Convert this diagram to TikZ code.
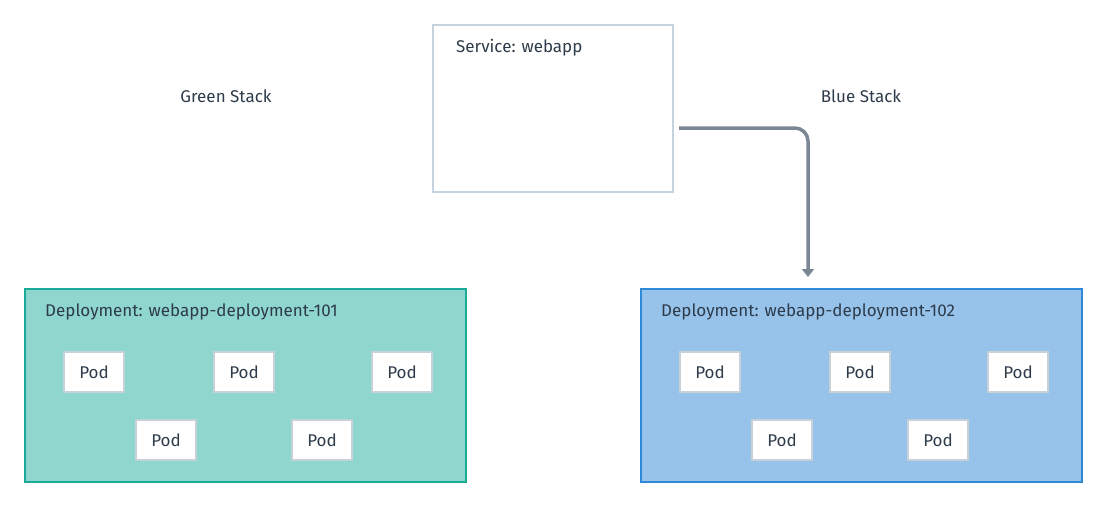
\documentclass[tikz,border=0pt]{standalone}
\usepackage{fontspec}
\setmainfont{Fira Sans}
\usetikzlibrary{arrows.meta}
\definecolor{txt}{HTML}{2D3B4A}
\definecolor{svcborder}{HTML}{C5D3DF}
\definecolor{arrowc}{HTML}{7B8794}
\definecolor{gfill}{HTML}{8FD6CE}
\definecolor{gborder}{HTML}{1AAB98}
\definecolor{bfill}{HTML}{97C3EB}
\definecolor{bborder}{HTML}{2F89D9}
\definecolor{podborder}{HTML}{C8D0D8}
\tikzset{
  lbl/.style={text=txt, font=\fontsize{17}{20}\selectfont, inner sep=0pt},
  podbox/.style={draw=podborder, line width=2pt, fill=white, minimum width=60pt, minimum height=40pt, inner sep=0pt, text=txt, font=\fontsize{17}{20}\selectfont},
  deploy/.style={line width=2pt, minimum width=441pt, minimum height=193pt, inner sep=0pt, anchor=north west},
  conn/.style={draw=arrowc, line width=3.5pt, rounded corners=13pt, -{Triangle[length=8pt,width=12pt]}},
}
\begin{document}
\begin{tikzpicture}[x=1pt,y=-1pt]
\useasboundingbox (0,0) rectangle (1104,504);
% service
\node[draw=svcborder, line width=2pt, minimum width=240pt, minimum height=167pt, inner sep=0pt, anchor=north west] (svc) at (432,24) {};
\node[lbl, anchor=west] (svct) at (456,47.5) {Service: webapp};
% stacks
\node[lbl] (green) at (226,96) {Green Stack};
\node[lbl] (blue) at (861,96) {Blue Stack};
% deployments
\node[deploy, draw=gborder, fill=gfill] (dg) at (23.5,287.5) {};
\node[deploy, draw=bborder, fill=bfill] (db) at (639.5,287.5) {};
\node[lbl, anchor=west] (dgt) at (45,312) {Deployment: webapp-deployment-101};
\node[lbl, anchor=west] (dbt) at (661,312) {Deployment: webapp-deployment-102};
% pods green
\node[podbox] (g1) at (94,372) {Pod};
\node[podbox] (g2) at (244,372) {Pod};
\node[podbox] (g3) at (402,372) {Pod};
\node[podbox] (g4) at (166,440) {Pod};
\node[podbox] (g5) at (322,440) {Pod};
% pods blue
\node[podbox] (b1) at (710,372) {Pod};
\node[podbox] (b2) at (860,372) {Pod};
\node[podbox] (b3) at (1018,372) {Pod};
\node[podbox] (b4) at (782,440) {Pod};
\node[podbox] (b5) at (938,440) {Pod};
% connector
\coordinate (cstart) at (679,128);
\coordinate (ctip) at (808,277);
\draw[conn] (cstart) -| (ctip);
\end{tikzpicture}
\end{document}
